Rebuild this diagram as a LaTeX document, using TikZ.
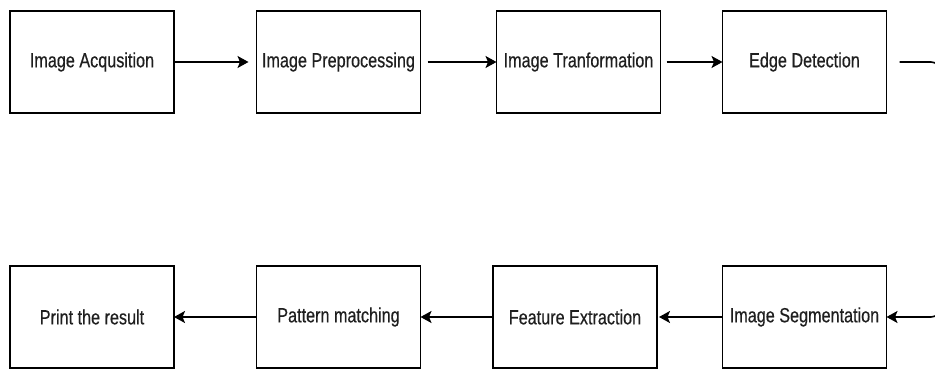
\documentclass[tikz,border=0pt]{standalone}
\usepackage{fontspec}
\setmainfont{Liberation Sans}[FakeStretch=0.79,FakeBold=0.4]
\usetikzlibrary{arrows.meta}
\begin{document}
\begin{tikzpicture}[x=1pt,y=-1pt,
  stage/.style={draw=black, line width=1.9pt, fill=white, minimum width=164pt,
    minimum height=102pt, inner sep=0pt, outer sep=0pt, text=black!88,
    font=\fontsize{20.5}{23}\selectfont},
  flow/.style={line width=1.6pt, -{Stealth[length=11pt,width=12pt,inset=2.5pt]}}]
\useasboundingbox (0,0) rectangle (935,369);
\clip (0,0) rectangle (935,369);
% top row, left to right
\node[stage] (acq)  at (92,62)    {Image Acqusition};
\node[stage] (pre)  at (338.5,62) {Image Preprocessing};
\node[stage] (tra)  at (578.5,62) {Image Tranformation};
\node[stage] (edge) at (804.5,62) {Edge Detection};
% bottom row, right to left
\node[stage] (seg)  at (804.5,317) {Image Segmentation};
\node[stage] (fea)  at (575,317)   {Feature Extraction};
\node[stage] (pat)  at (338.5,317) {Pattern matching};
\node[stage] (res)  at (92,317)    {Print the result};
% connectors
\draw[flow, shorten >=8pt] (acq.east) -- (pre.west);
\draw[flow, shorten <=7pt] (pre.east) -- (tra.west);
\draw[flow, shorten <=6pt] (tra.east) -- (edge.west);
\coordinate (turn) at (940,190);
\draw[flow, rounded corners=9pt, shorten <=13pt] (edge.east) -| (turn) |- (seg.east);
\draw[flow, shorten >=2pt] (seg.west) -- (fea.east);
\draw[flow] (fea.west) -- (pat.east);
\draw[flow] (pat.west) -- (res.east);
\end{tikzpicture}
\end{document}
